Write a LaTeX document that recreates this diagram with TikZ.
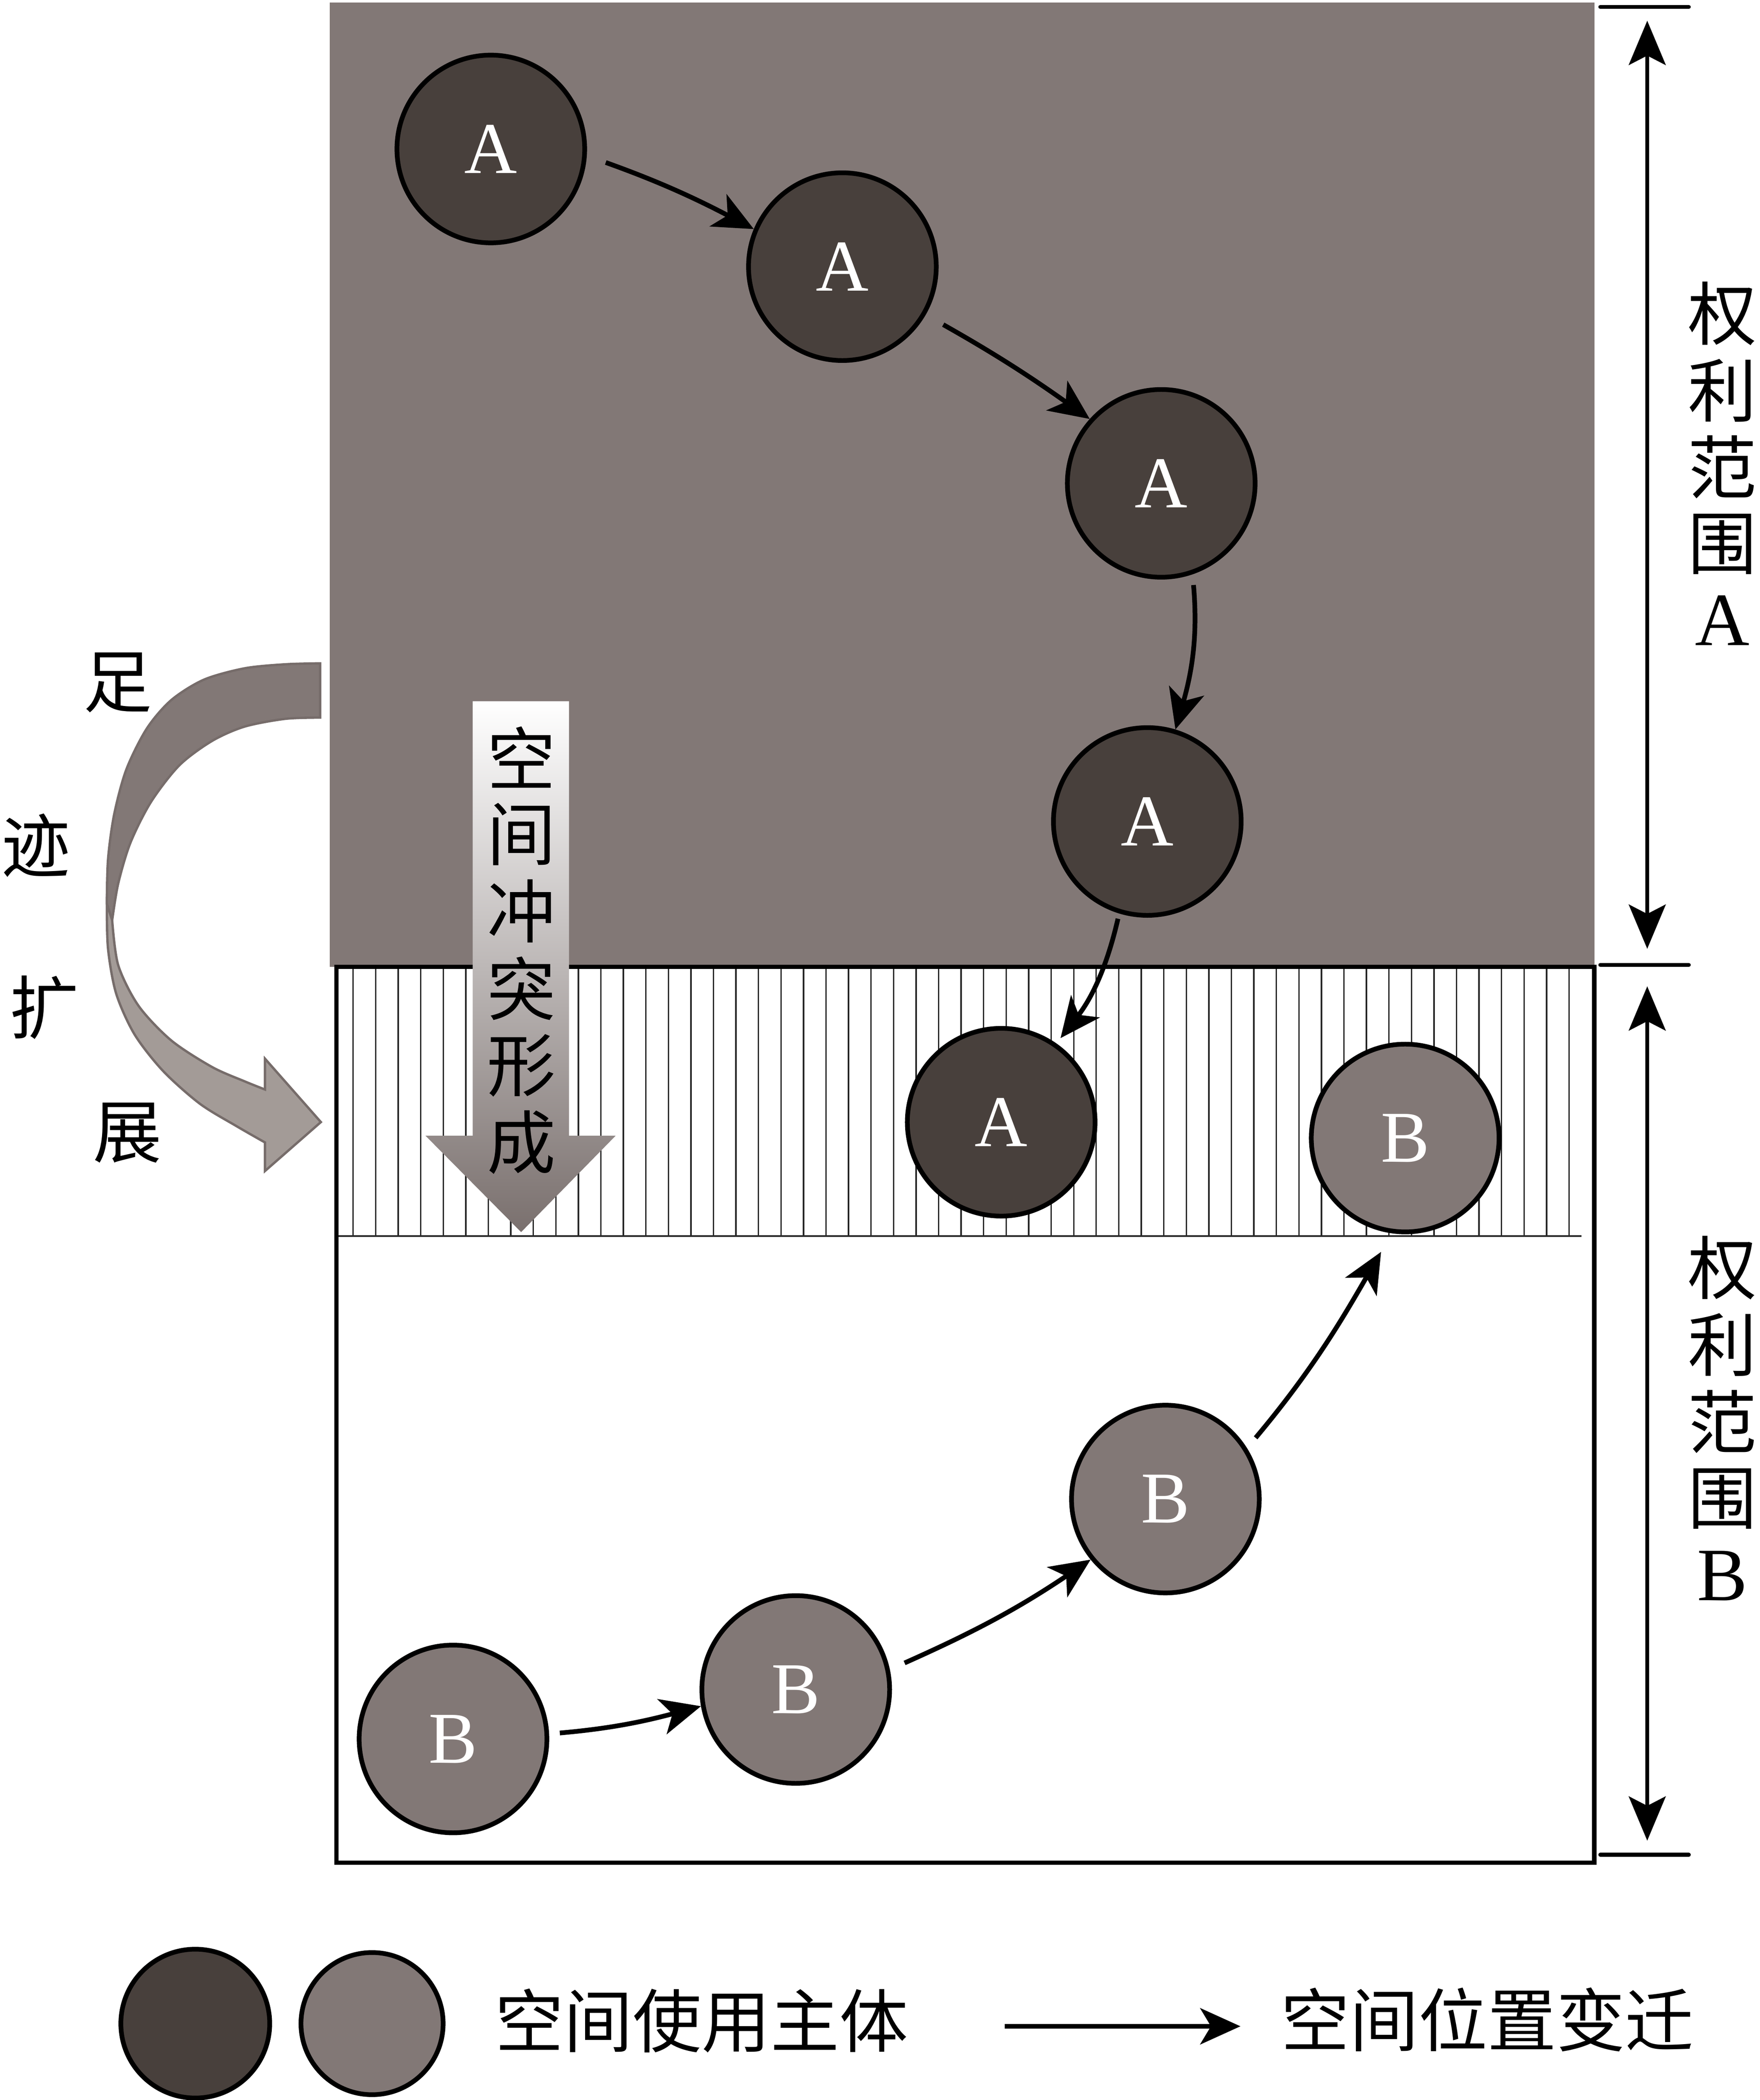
\documentclass[tikz,border=0pt]{standalone}
\usepackage{fontspec}
\setmainfont{Liberation Serif}
\newfontfamily\cjk{Noto Sans CJK SC}
\usetikzlibrary{arrows.meta}

\definecolor{bggray}{RGB}{130,120,118}
\definecolor{subdark}{RGB}{72,64,60}
\definecolor{bandlight}{RGB}{163,155,151}
\definecolor{bandedge}{RGB}{118,108,106}
\definecolor{shadegray}{RGB}{122,112,110}

\begin{document}
\begin{tikzpicture}[x=0.01cm,y=0.01cm,
  subA/.style={circle,draw=black,line width=1pt,fill=subdark,minimum size=1.4cm,inner sep=0pt,
    text=white,font=\fontsize{15.5pt}{15.5pt}\selectfont},
  subB/.style={subA,fill=bggray},
  moveline/.style={->,>={Stealth[length=3mm,width=2.7mm,inset=0.8mm]},line width=1pt},
  dimline/.style={<->,>={Stealth[length=3.3mm,width=2.75mm,inset=0.7mm]},line width=0.8pt},
  dimtick/.style={line width=0.85pt,line cap=round},
  hatchline/.style={line width=0.3pt,black!85},
  zh/.style={font=\cjk\fontsize{14.6pt}{14.6pt}\selectfont,inner sep=0pt},
  lat/.style={font=\fontsize{16pt}{16pt}\selectfont,inner sep=0pt}]

\useasboundingbox (0,0) rectangle (1313.1,1567);

% range A (filled) and range B (framed), overlap hatched
\fill[bggray] (246,845.5) rectangle (1189.5,1565);
\foreach \i in {0,...,54}
  \draw[hatchline] ({263.5+16.8*\i},644.7) -- ++(0,200.8);
\draw[hatchline] (251,644.7) -- (1180,644.7);
\draw[line width=0.9pt] (251,177) rectangle (1189.5,845.5);

% conflict arrow
\shade[top color=white,bottom color=shadegray] (352.7,1043.7) -- (424.5,1043.7) -- (424.5,719.5)
  -- (459.3,719.5) -- (388.8,647.6) -- (317.5,719.5) -- (352.7,719.5) -- cycle;
\foreach \ch [count=\i from 0] in {空,间,冲,突,形,成}
  \node[zh] (c\i) at (389,1002-57.5*\i) {\ch};

% subjects
\node[subA] (a1) at (366.2,1455.8) {A};
\node[subA] (a2) at (628.5,1368) {A};
\node[subA] (a3) at (866.4,1206.3) {A};
\node[subA] (a4) at (856,954) {A};
\node[subA] (a5) at (747,729.6) {A};
\node[subB] (b4) at (1048.4,717.8) {B};
\node[subB] (b3) at (869.5,448.4) {B};
\node[subB] (b2) at (593.7,306.3) {B};
\node[subB] (b1) at (338,269.4) {B};

% position changes
\draw[moveline,shorten <=0.15cm] (a1.-4.5) to[bend left=4] (a2.157.6);
\draw[moveline,shorten <=0.15cm] (a2.-30.7) to[bend left=3] (a3.138.8);
\draw[moveline,shorten <=0.08cm] (a3.-71) to[out=-85,in=74] (a4.73);
\draw[moveline,shorten <=0.04cm,shorten >=0.05cm] (a4.-107) to[out=-103,in=52] (a5.55);
\draw[moveline,shorten <=0.08cm] (b1.3) to[out=5,in=195] (b2.190.6);
\draw[moveline,shorten <=0.12cm] (b2.12.3) to[out=24,in=214] (b3.219);
\draw[moveline,shorten <=0.1cm,shorten >=0.16cm] (b3.32.7) to[out=50,in=240] (b4.262);

% extent of the two ranges
\draw[dimtick] (1194,1561.8) -- (1260,1561.8);
\draw[dimtick] (1194,847) -- (1260,847);
\draw[dimtick] (1194,183) -- (1260,183);
\coordinate (ra1) at (1229,1551.5);
\coordinate (ra2) at (1229,859);
\coordinate (rb1) at (1229,831);
\coordinate (rb2) at (1229,193.5);
\draw[dimline] (ra1) -- (ra2);
\draw[dimline] (rb1) -- (rb2);
\foreach \ch [count=\i from 0] in {权,利,范,围}
  \node[zh] (qa\i) at (1285,1333-57.3*\i) {\ch};
\node[lat] (qa4) at (1285,1104) {A};
\foreach \ch [count=\i from 0] in {权,利,范,围}
  \node[zh] (qb\i) at (1285,621-57.5*\i) {\ch};
\node[lat] (qb4) at (1285,391) {B};

% footprint expansion
\filldraw[fill=bggray,draw=bandedge,line width=0.5pt]
  plot[smooth] coordinates {(238.8,1072) (212.9,1071.3) (182.5,1068.3) (152.1,1059.8) (127.8,1044.6)
    (109.5,1023.3) (94.3,992.9) (85.2,959.4) (80.6,925.9) (79.7,892.5)}
  -- plot[smooth] coordinates {(83.7,880.3) (88.2,907.7) (97.3,938.1) (112.6,968.5) (133.8,995.9)
    (158.2,1014.1) (182.5,1024.8) (212.9,1030.6) (238.8,1031.5)} -- cycle;
\filldraw[fill=bandlight,draw=bandedge,line width=0.5pt]
  plot[smooth] coordinates {(79.7,892.5) (80.6,859) (86.7,825.5) (100.4,795.1) (121.7,767.8)
    (149.1,743.4) (176.4,726.7) (197.7,714.5)}
  -- (197.7,693.2) -- (239.4,729.7) -- (197.7,777)
  -- plot[smooth] coordinates {(197.7,754) (182.5,760.1) (158.2,770.8) (127.8,790.6) (103.4,816.4)
    (88.2,846.8) (83.7,880.3)} -- cycle;
\node[zh] (f1) at (88,1057.5) {足};
\node[zh] (f2) at (26.8,936.3) {迹};
\node[zh] (f3) at (33,815.2) {扩};
\node[zh] (f4) at (95.1,721.8) {展};

% legend
\node[subA,minimum size=1.11cm] (ka) at (145.7,57) {};
\node[subB,minimum size=1.06cm] (kb) at (277.6,57) {};
\node[zh] (kt1) at (523.5,59.3) {空间使用主体};
\coordinate (kl1) at (749.6,55);
\coordinate (kl2) at (925.5,55);
\draw[moveline] (kl1) -- (kl2);
\node[zh] (kt2) at (1109.8,60) {空间位置变迁};
\end{tikzpicture}
\end{document}
